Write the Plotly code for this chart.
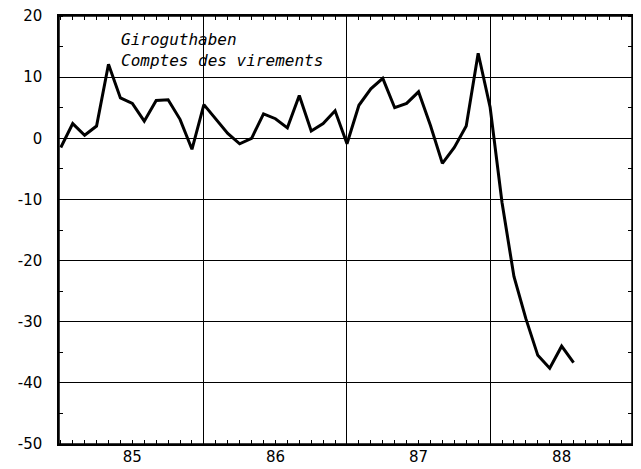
import plotly.graph_objects as go

months = list(range(44))  # Jan 1985 .. Aug 1988, month index
values = [-1.5, 2.4, 0.5, 2.0, 12.1, 6.6, 5.7, 2.8, 6.2, 6.3, 3.1, -1.8,
          5.5, 3.2, 0.8, -0.9, 0.0, 4.0, 3.2, 1.7, 7.0, 1.2, 2.4, 4.5,
          -0.9, 5.4, 8.1, 9.8, 5.0, 5.7, 7.6, 2.1, -4.1, -1.5, 2.0, 13.9,
          5.1, -10.5, -22.6, -29.5, -35.5, -37.6, -34.0, -36.7]
year_bounds = [12, 24, 36]
year_label_pos = [6, 18, 30, 42]
year_labels = ["85", "86", "87", "88"]
y_ticks = [20, 10, 0, -10, -20, -30, -40, -50]
y_labels = ["20", "10", "0", "-10", "-20", "-30", "-40", "-50"]

fig = go.Figure()
fig.add_trace(go.Scatter(x=months, y=values, mode="lines",
                         line=dict(color="black", width=3), showlegend=False))
fig.add_trace(go.Scatter(x=[0], y=[None], xaxis="x2", showlegend=False, hoverinfo="skip"))
fig.add_trace(go.Scatter(x=[0], y=[None], yaxis="y2", showlegend=False, hoverinfo="skip"))

fig.update_layout(
    width=633, height=461,
    margin=dict(l=51, r=9, t=8, b=25),
    paper_bgcolor="white", plot_bgcolor="white",
    font=dict(family="DejaVu Sans", size=15, color="black"),
    xaxis=dict(range=[-0.15, 47.9], tickvals=year_bounds, showticklabels=False,
               showgrid=True, gridcolor="black", gridwidth=1, automargin=False,
               showline=True, linecolor="black", linewidth=1.5, mirror="all",
               ticks="", zeroline=False,
               minor=dict(dtick=1, tick0=0, ticks="inside", ticklen=4, tickcolor="black", showgrid=False)),
    xaxis2=dict(range=[-0.15, 47.9], overlaying="x", side="bottom", anchor="y",
                tickvals=year_label_pos, ticktext=year_labels, showgrid=False, automargin=False,
                ticks="", showline=False, zeroline=False, ticklen=0, ticklabelstandoff=2,
                ticklabeloverflow="allow"),
    yaxis=dict(range=[-50, 20], tickvals=y_ticks, ticktext=y_labels, showgrid=True,
               gridcolor="black", gridwidth=1, automargin=False,
               zeroline=True, zerolinecolor="black", zerolinewidth=1,
               showline=True, linecolor="black", linewidth=1.5, mirror=False,
               ticks="", ticklabelstandoff=12, ticklabeloverflow="allow",
               minor=dict(dtick=5, tick0=0, ticks="inside", ticklen=4, tickcolor="black", showgrid=False)),
    yaxis2=dict(range=[-50, 20], overlaying="y", side="right", anchor="x",
                tickvals=y_ticks, showticklabels=False, showgrid=False, zeroline=False,
                automargin=False, showline=True, linecolor="black", linewidth=1.5, ticks="",
                minor=dict(dtick=5, tick0=0, ticks="inside", ticklen=4, tickcolor="black", showgrid=False)),
    shapes=[dict(type="rect", xref="paper", yref="paper", x0=0, x1=1, y0=0, y1=1,
                 line=dict(color="black", width=1.5), fillcolor="rgba(0,0,0,0)", layer="above")],
    annotations=[dict(xref="paper", yref="paper", x=0.104, y=0.972, xanchor="left", yanchor="top",
                      text="<i>Giroguthaben<br>Comptes des virements</i>", showarrow=False, align="left",
                      font=dict(family="DejaVu Sans Mono", size=16, color="black"))],
)
fig.write_html("out.html")
